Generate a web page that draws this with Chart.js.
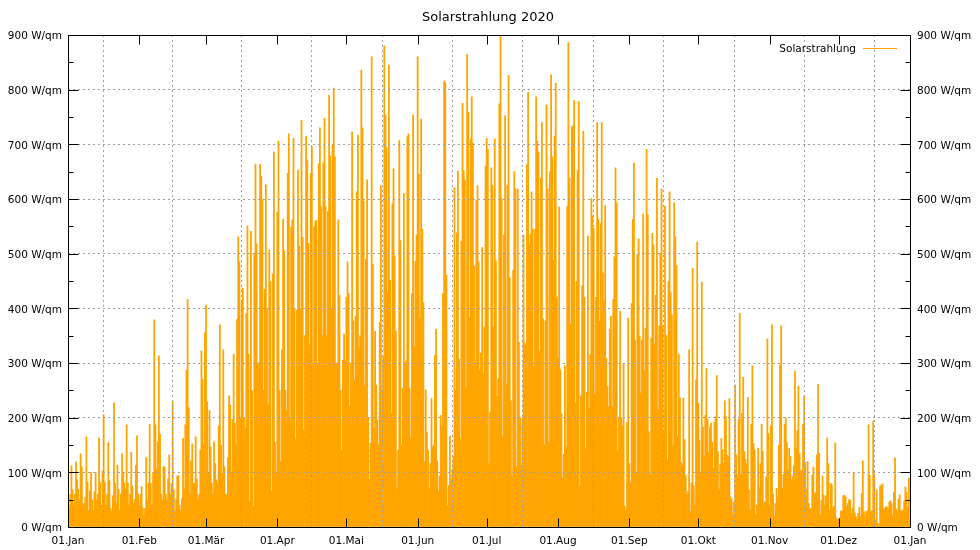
<!DOCTYPE html>
<html lang="de">
<head>
<meta charset="utf-8">
<title>Solarstrahlung 2020</title>
<script src="https://cdn.jsdelivr.net/npm/chart.js@4.4.1/dist/chart.umd.min.js"></script>
<style>
  html, body { margin: 0; padding: 0; background: #fff; }
  #wrap { width: 980px; height: 550px; }
</style>
</head>
<body>
<div id="wrap"><canvas id="chart" width="980" height="550"></canvas></div>
<script>
// Tagesspitzen (peak) und zweiter Wert des Tages (base), W/qm, je Monat
const peakJan = [57,112,68,119,86,134,110,54,165,66,100,64,100,163,81,205,82,155,85,57,227,113,69,134,99,187,80,137,75,113,167];
const baseJan = [35,60,40,60,69,50,40,43,82,30,50,30,50,60,40,102,40,60,34,29,80,44,30,60,81,70,40,60,43,50,60];
const peakFeb = [60,74,34,127,188,80,379,187,313,170,110,110,88,132,229,68,93,94,52,162,287,416,121,152,165,88,141,322,355];
const baseFeb = [40,35,20,50,80,40,100,106,156,60,50,60,50,60,80,30,50,40,30,70,187,218,60,80,80,50,60,270,150];
const peakMar = [406,213,147,156,116,185,370,324,110,127,240,197,316,380,531,412,437,390,551,541,250,664,518,663,642,435,626,507,449,686,155];
const baseMar = [229,100,80,60,86,80,150,98,60,60,223,100,190,150,485,200,200,180,316,47,37,500,300,300,599,250,400,225,65,463,100];
const peakApr = [706,250,563,505,647,719,562,711,397,653,744,530,715,671,647,696,559,561,730,586,748,586,790,679,803,677,562,424,305,353];
const baseApr = [576,120,324,250,214,200,548,400,160,513,400,177,350,519,335,300,549,300,665,350,666,350,577,400,700,300,300,250,140,304];
const peakMai = [485,427,723,377,613,717,836,730,490,635,153,860,358,260,374,624,880,754,845,451,655,496,140,707,254,610,714,719,427,754,534];
const baseMai = [420,221,300,269,385,328,350,596,258,200,86,481,180,196,150,250,312,694,430,208,591,358,70,524,150,300,304,254,164,330,486];
const peakJun = [860,746,545,251,173,116,235,314,362,93,204,816,813,76,166,129,621,651,307,775,652,865,759,787,702,597,624,318,511,660];
const baseJun = [645,382,410,120,140,70,146,150,121,65,184,427,461,40,88,105,250,538,162,522,635,253,383,710,477,302,485,287,280,366];
const peakJul = [711,210,657,710,487,774,899,534,752,826,456,470,650,618,338,199,534,663,795,613,545,787,706,638,740,377,772,650,827,715,812];
const baseJul = [691,116,625,366,239,271,601,165,260,625,231,94,618,110,200,113,337,333,518,535,293,545,686,321,381,150,618,155,677,488,421];
const peakAug = [585,288,133,295,886,638,734,780,652,778,441,724,246,532,601,569,420,740,555,740,588,309,362,386,494,657,200,395,299,38,382];
const baseAug = [309,207,90,146,586,371,732,227,449,75,240,420,143,217,315,547,243,563,376,465,414,257,220,220,416,593,138,200,185,30,191];
const peakSep = [116,563,666,499,527,342,573,691,571,345,537,424,638,501,618,587,351,613,429,593,531,316,236,236,160,65,324,473,75,521];
const baseSep = [80,409,342,100,349,245,286,364,174,96,516,335,214,368,368,176,123,449,388,150,478,166,118,113,94,60,28,80,40,269];
const peakOkt = [226,448,183,290,197,190,155,202,277,115,162,231,203,235,55,46,260,197,391,274,138,237,68,295,153,40,144,188,138,92,344];
const baseOkt = [159,100,130,204,137,183,107,192,138,68,141,116,131,129,50,22,132,94,95,208,124,116,31,188,141,23,72,116,40,46,171];
const peakNov = [185,370,43,71,296,368,188,200,144,129,112,285,258,134,188,240,120,43,95,110,132,261,49,93,57,163,80,77,154,16];
const baseNov = [40,60,19,55,150,70,96,155,104,86,92,143,176,104,103,118,68,32,34,61,63,135,22,58,40,116,31,34,38,14];
const peakDez = [16,29,58,55,50,49,99,26,25,36,121,28,30,187,30,194,68,7,76,79,37,37,48,43,126,33,59,30,48,73,90];
const baseDez = [15,29,57,37,43,24,34,19,15,19,61,19,28,94,28,97,13,4,75,31,34,34,46,21,63,28,51,28,31,64,37];

// Achsen
const monthStarts = [0, 31, 60, 91, 121, 152, 182, 213, 244, 274, 305, 335, 366];
const monthLabels = ['01.Jan','01.Feb','01.Mär','01.Apr','01.Mai','01.Jun','01.Jul','01.Aug','01.Sep','01.Okt','01.Nov','01.Dez','01.Jan'];
const yTicks = [0, 100, 200, 300, 400, 500, 600, 700, 800, 900];

const peaks = [].concat(peakJan, peakFeb, peakMar, peakApr, peakMai, peakJun,
                        peakJul, peakAug, peakSep, peakOkt, peakNov, peakDez);
const bases = [].concat(baseJan, baseFeb, baseMar, baseApr, baseMai, baseJun,
                        baseJul, baseAug, baseSep, baseOkt, baseNov, baseDez);

// zwei Balken pro Tag, abwechselnd Spitze links/rechts
const points = [];
peaks.forEach((p, d) => {
    const first = d % 2 === 0 ? p : bases[d];
    const second = d % 2 === 0 ? bases[d] : p;
    points.push({ x: d, y: first });
    points.push({ x: d + 0.5, y: second });
});

const ORANGE = '#ffa500';
const FONT = { family: '"DejaVu Sans", sans-serif', size: 10.5 };

// Rahmen, Ticks nach innen, Titel und Legende wie bei gnuplot
const framePlugin = {
    id: 'frame',
    afterDraw(chart) {
        const { ctx, chartArea: a, scales } = chart;
        const x = scales.x, y = scales.y;
        ctx.save();
        ctx.strokeStyle = '#000';
        ctx.lineWidth = 1;
        ctx.beginPath();
        const L = Math.round(a.left) + 0.5, R = Math.round(a.right) + 0.5;
        const T = Math.round(a.top) + 0.5, B = Math.round(a.bottom) + 0.5;
        ctx.rect(L, T, R - L, B - T);
        monthStarts.forEach(v => {
            const px = Math.round(x.getPixelForValue(v)) + 0.5;
            ctx.moveTo(px, B); ctx.lineTo(px, B - 9);
            ctx.moveTo(px, T); ctx.lineTo(px, T + 9);
        });
        for (let v = 0; v <= 900; v += 50) {
            const py = Math.round(y.getPixelForValue(v)) + 0.5;
            const len = v % 100 === 0 ? 10 : 5;
            ctx.moveTo(L, py); ctx.lineTo(L + len, py);
            ctx.moveTo(R, py); ctx.lineTo(R - len, py);
        }
        ctx.stroke();

        ctx.fillStyle = '#000';
        ctx.font = '13px "DejaVu Sans", sans-serif';
        ctx.textAlign = 'center';
        ctx.textBaseline = 'middle';
        ctx.fillText('Solarstrahlung 2020', 488, 18);

        ctx.font = '10.5px "DejaVu Sans", sans-serif';
        ctx.textAlign = 'right';
        ctx.fillText('Solarstrahlung', 856, 49);
        ctx.strokeStyle = ORANGE;
        ctx.beginPath();
        ctx.moveTo(863, 48.5); ctx.lineTo(897, 48.5);
        ctx.stroke();
        ctx.restore();
    }
};

new Chart(document.getElementById('chart'), {
    type: 'bar',
    data: {
        datasets: [{
            label: 'Solarstrahlung',
            data: points,
            backgroundColor: ORANGE,
            borderWidth: 0,
            barThickness: 1.15,
            grouped: false
        }]
    },
    options: {
        responsive: false,
        animation: false,
        layout: { padding: { top: 35, left: 0, right: 0, bottom: 0 } },
        plugins: {
            legend: { display: false },
            title: { display: false },
            tooltip: { enabled: false }
        },
        scales: {
            x: {
                type: 'linear',
                min: 0,
                max: 366,
                offset: false,
                afterBuildTicks: s => { s.ticks = monthStarts.map(v => ({ value: v })); },
                afterFit: s => { s.height = 23; },
                ticks: {
                    autoSkip: false,
                    maxRotation: 0,
                    padding: 8,
                    color: '#000',
                    font: FONT,
                    callback: v => monthLabels[monthStarts.indexOf(v)]
                },
                grid: { color: '#a0a0a0', drawTicks: false, z: 1 },
                border: { display: false, dash: [2, 3] }
            },
            y: {
                min: 0,
                max: 900,
                afterBuildTicks: s => { s.ticks = yTicks.map(v => ({ value: v })); },
                afterFit: s => { s.width = 68; },
                ticks: {
                    padding: 6,
                    labelOffset: 1.5,
                    color: '#000',
                    font: FONT,
                    callback: v => v + ' W/qm'
                },
                grid: { color: '#a0a0a0', drawTicks: false, z: 1 },
                border: { display: false, dash: [2, 3] }
            },
            y2: {
                position: 'right',
                min: 0,
                max: 900,
                afterBuildTicks: s => { s.ticks = yTicks.map(v => ({ value: v })); },
                afterFit: s => { s.width = 70; },
                ticks: {
                    padding: 7,
                    labelOffset: 1.5,
                    color: '#000',
                    font: FONT,
                    callback: v => v + ' W/qm'
                },
                grid: { display: false, drawTicks: false },
                border: { display: false }
            }
        }
    },
    plugins: [framePlugin]
});
</script>
</body>
</html>
